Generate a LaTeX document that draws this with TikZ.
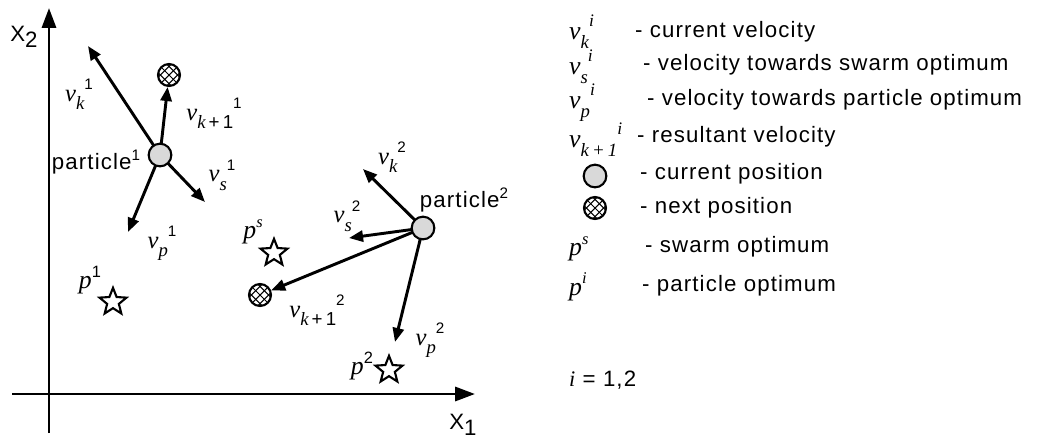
\documentclass[tikz,border=0pt]{standalone}
\usepackage{fontspec}
\setmainfont{Liberation Sans}[LetterSpace=5]
\newfontfamily\tms{Liberation Serif}
\usetikzlibrary{arrows.meta,shapes.geometric,backgrounds}
\newcommand\iv[1]{{\tms\itshape #1}}
% diagram labels
\newcommand\vlab[3]{{\tms\itshape\fontsize{21}{21}\selectfont #1}\raisebox{-7pt}{\fontsize{16}{16}\selectfont #2}\raisebox{10pt}{\fontsize{13}{13}\selectfont #3}}
\newcommand\plab[2]{{\tms\itshape\fontsize{22}{22}\selectfont #1}\raisebox{10pt}{\fontsize{14}{14}\selectfont #2}}
% legend labels
\newcommand\vleg[3]{{\tms\itshape\fontsize{22}{22}\selectfont #1}\raisebox{-8pt}{\fontsize{16}{16}\selectfont #2}\raisebox{11pt}{\fontsize{15}{15}\selectfont #3}}
\newcommand\ptcl[1]{particle\raisebox{8pt}{\fontsize{13}{13}\selectfont #1}}
\begin{document}
\begin{tikzpicture}[x=0.03cm,y=-0.03cm,
 vec/.style={line width=2.5pt,-{Triangle[length=12pt,width=9.5pt]}},
 axis/.style={line width=2.5pt,-{Triangle[length=17pt,width=12pt]}},
 cur/.style={circle,draw,line width=1.8pt,fill=black!15,minimum size=0.68cm,inner sep=0},
 nxt/.style={circle,draw,line width=1.8pt,fill=white,minimum size=0.66cm,inner sep=0,
   path picture={\begin{scope}[shift={(path picture bounding box.center)},x=1cm,y=1cm]
     \foreach \c in {-0.26,0,0.26}{
       \draw[line width=0.9pt] (\c/2-0.5,-\c/2-0.5) -- (\c/2+0.5,-\c/2+0.5);
       \draw[line width=0.9pt] (\c/2-0.5,\c/2+0.5) -- (\c/2+0.5,\c/2-0.5);}
   \end{scope}}},
 opt/.style={star,star points=5,star point ratio=2.3,draw,line width=1.8pt,fill=white,minimum size=0.85cm,inner sep=0},
 txt/.style={font=\fontsize{19}{19}\selectfont,inner sep=0,anchor=west},
 lab/.style={font=\fontsize{19}{19}\selectfont,inner sep=0},
 sym/.style={inner sep=0,anchor=west}]
\useasboundingbox (0,0) rectangle (1037,439);
% axes
\coordinate (xs) at (12,394);
\coordinate (xe) at (475,394);
\coordinate (yb) at (49,433);
\coordinate (yt) at (49,8);
\draw[axis] (xs) -- (xe);
\draw[axis] (yb) -- (yt);
\node[lab] (x1) at (463,425) {X\raisebox{-5pt}{1}};
\node[lab] (x2) at (24,37) {X\raisebox{-5pt}{2}};
% particles and positions
\node[cur] (p1) at (160,155) {};
\node[nxt] (n1) at (169,75) {};
\node[cur] (p2) at (423,228) {};
\node[nxt] (n2) at (260,295) {};
\node[opt] (ps) at (274,253) {};
\node[opt] (o1) at (113,302) {};
\node[opt] (o2) at (389,370) {};
\coordinate (vk1) at (88,46);
\coordinate (vs1) at (205,202);
\coordinate (vp1) at (128,232);
\coordinate (vk2) at (363,169);
\coordinate (vs2) at (349,238);
\coordinate (vp2) at (395,342);
\begin{scope}[on background layer]
\draw[vec] (p1.center) -- (vk1);
\draw[vec] (p1.center) -- (vs1);
\draw[vec] (p1.center) -- (vp1);
\draw[vec] (p1.center) -- (n1);
\draw[vec] (p2.center) -- (vk2);
\draw[vec] (p2.center) -- (vs2);
\draw[vec] (p2.center) -- (vp2);
\draw[vec] (p2.center) -- (n2);
\end{scope}
% labels
\node[lab] (lk1) at (79,94) {\vlab{v}{\iv{k}}{1}};
\node[lab] (lkk1) at (214,113) {\vlab{v}{\iv{k}\,+\,1}{1}};
\node[lab] (lp1) at (96,162) {\ptcl{1}};
\node[lab] (ls1) at (222,175) {\vlab{v}{\iv{s}}{1}};
\node[lab] (lv1) at (162,243) {\vlab{v}{\iv{p}}{1}};
\node[lab] (lo1) at (90,280) {\plab{p}{1}};
\node[lab] (lk2) at (392,157) {\vlab{v}{\iv{k}}{2}};
\node[lab] (lp2) at (464,200) {\ptcl{2}};
\node[lab] (ls2) at (347,216) {\vlab{v}{\iv{s}}{2}};
\node[lab] (lps) at (253,232) {\plab{p}{\iv{s}}};
\node[lab] (lkk2) at (317,310) {\vlab{v}{\iv{k}\,+\,1}{2}};
\node[lab] (lv2) at (430,340) {\vlab{v}{\iv{p}}{2}};
\node[lab] (lo2) at (362,366) {\plab{p}{2}};
% legend
\node[sym] (g1) at (569,32) {\vleg{v}{\iv{k}}{\iv{i}}};
\node[txt] (t1) at (635,32) {- current velocity};
\node[sym] (g2) at (569,67) {\vleg{v}{\iv{s}}{\iv{i}}};
\node[txt] (t2) at (643,65) {- velocity towards swarm optimum};
\node[sym] (g3) at (569,103) {\vleg{v}{\iv{p}}{\iv{i}}};
\node[txt] (t3) at (647,100) {- velocity towards particle optimum};
\node[sym] (g4) at (569,140) {\vleg{v}{\iv{k\,+\,1}}{\iv{i}}};
\node[txt] (t4) at (637,137) {- resultant velocity};
\node[cur] (g5) at (595,176) {};
\node[txt] (t5) at (640,174) {- current position};
\node[nxt] (g6) at (595,208) {};
\node[txt] (t6) at (640,208) {- next position};
\node[sym] (g7) at (569,249) {\plab{p}{\iv{s}}};
\node[txt] (t7) at (645,247) {- swarm optimum};
\node[sym] (g8) at (569,287) {\plab{p}{\iv{i}}};
\node[txt] (t8) at (642,286) {- particle optimum};
\node[txt] (t9) at (569,380) {\iv{i} = 1,2};
\end{tikzpicture}
\end{document}
